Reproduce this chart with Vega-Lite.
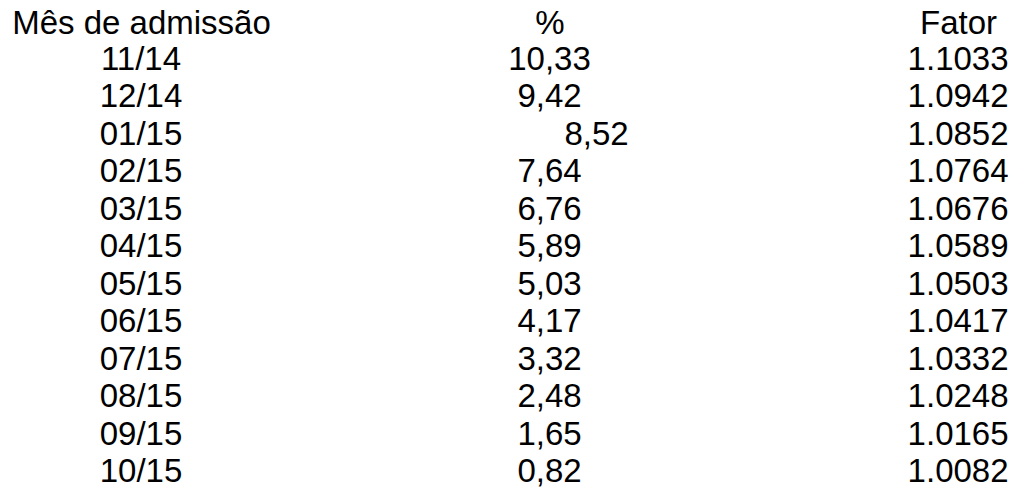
{
  "$schema": "https://vega.github.io/schema/vega-lite/v6.json",
  "width": 1014,
  "height": 488,
  "autosize": {"type": "fit", "contains": "padding"},
  "padding": {"top": 7, "left": 0, "right": 0, "bottom": 0},
  "background": "white",
  "config": {"view": {"stroke": null}, "font": "Liberation Sans"},
  "data": {
    "values": [
      {"mes": "11/14", "pct": "10,33", "fator": "1.1033"},
      {"mes": "12/14", "pct": "9,42", "fator": "1.0942"},
      {"mes": "01/15", "pct": "8,52", "fator": "1.0852"},
      {"mes": "02/15", "pct": "7,64", "fator": "1.0764"},
      {"mes": "03/15", "pct": "6,76", "fator": "1.0676"},
      {"mes": "04/15", "pct": "5,89", "fator": "1.0589"},
      {"mes": "05/15", "pct": "5,03", "fator": "1.0503"},
      {"mes": "06/15", "pct": "4,17", "fator": "1.0417"},
      {"mes": "07/15", "pct": "3,32", "fator": "1.0332"},
      {"mes": "08/15", "pct": "2,48", "fator": "1.0248"},
      {"mes": "09/15", "pct": "1,65", "fator": "1.0165"},
      {"mes": "10/15", "pct": "0,82", "fator": "1.0082"}
    ]
  },
  "transform": [
    {"window": [{"op": "row_number", "as": "linha"}]},
    {"fold": ["mes", "pct", "fator"], "as": ["coluna", "texto"]}
  ],
  "encoding": {
    "x": {
      "field": "coluna",
      "type": "nominal",
      "sort": ["mes", "pct", "fator"],
      "scale": {"type": "point", "padding": 0.241, "align": 0.716},
      "axis": {
        "orient": "top",
        "title": null,
        "domain": false,
        "ticks": false,
        "tickSize": 0,
        "labelPadding": 2,
        "labelFontSize": 33,
        "labelFont": "Liberation Sans",
        "labelColor": "black",
        "labelAngle": 0,
        "labelLimit": 0,
        "labelOverlap": false,
        "labelExpr": "datum.value == 'mes' ? 'Mês de admissão' : datum.value == 'pct' ? '%' : 'Fator'"
      }
    },
    "y": {
      "field": "linha",
      "type": "ordinal",
      "scale": {"type": "point", "padding": 0.41, "align": 0.58},
      "axis": null
    },
    "text": {"field": "texto", "type": "nominal"}
  },
  "layer": [
    {
      "transform": [{"filter": "!(datum.coluna == 'pct' && datum.linha == 3)"}],
      "mark": {"type": "text", "fontSize": 33, "color": "black", "align": "center", "baseline": "middle"}
    },
    {
      "transform": [{"filter": "datum.coluna == 'pct' && datum.linha == 3"}],
      "mark": {"type": "text", "fontSize": 33, "color": "black", "align": "center", "baseline": "middle", "dx": 47}
    }
  ]
}
